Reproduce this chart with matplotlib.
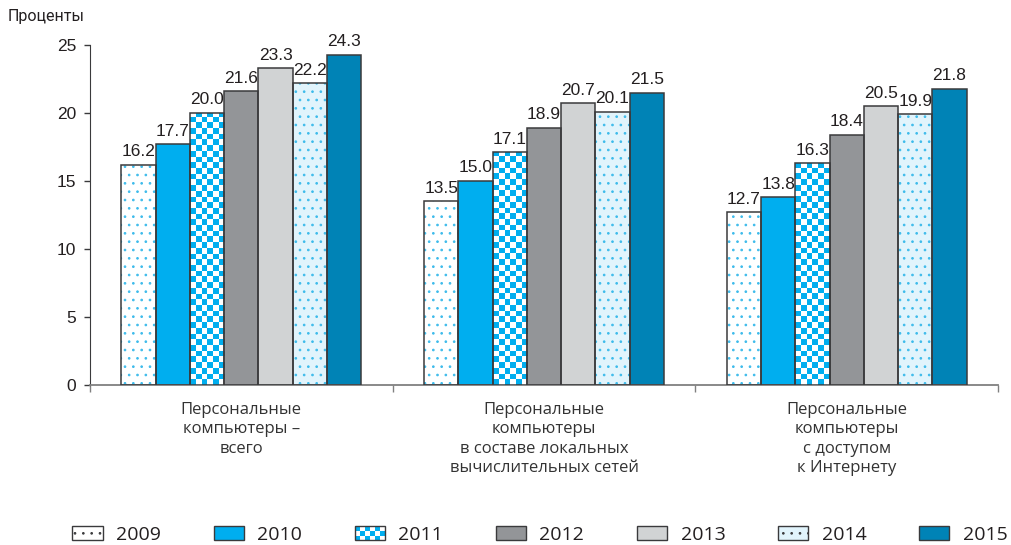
import numpy as np
import matplotlib
matplotlib.use("Agg")
import matplotlib.pyplot as plt
from matplotlib.colors import ListedColormap
from matplotlib.patches import Patch, Rectangle
from matplotlib.legend_handler import HandlerBase

categories = [
    "Персональные\nкомпьютеры –\nвсего",
    "Персональные\nкомпьютеры\nв составе локальных\nвычислительных сетей",
    "Персональные\nкомпьютеры\nс доступом\nк Интернету",
]
years = ["2009", "2010", "2011", "2012", "2013", "2014", "2015"]
values = {
    "2009": [16.2, 13.5, 12.7],
    "2010": [17.7, 15.0, 13.8],
    "2011": [20.0, 17.1, 16.3],
    "2012": [21.6, 18.9, 18.4],
    "2013": [23.3, 20.7, 20.5],
    "2014": [22.2, 20.1, 19.9],
    "2015": [24.3, 21.5, 21.8],
}

BLUE = "#00AEEF"
DOT = "#3DBBEB"
EDGE = "#3a3a3c"
face = {"2009": "white", "2010": BLUE, "2011": "white", "2012": "#939598",
        "2013": "#D1D3D4", "2014": "#E1F4FC", "2015": "#0083B6"}
hatch = {"2009": "..", "2014": ".."}

plt.rcParams["hatch.linewidth"] = 0.7
num_font = ["Liberation Sans Narrow", "Liberation Sans", "DejaVu Sans"]


class CheckerHandler(HandlerBase):
    # legend key drawn as a small blue/white checkerboard
    def create_artists(self, legend, orig_handle, xdescent, ydescent, width,
                       height, fontsize, trans):
        arts = []
        nx, ny = 6, 3
        cw, ch = width / nx, height / ny
        for r in range(ny):
            for c in range(nx):
                col = BLUE if (r + c) % 2 == 0 else "white"
                arts.append(Rectangle((-xdescent + c * cw, -ydescent + r * ch), cw, ch,
                                      facecolor=col, linewidth=0, transform=trans))
        arts.append(Rectangle((-xdescent, -ydescent), width, height, fill=False,
                              edgecolor=EDGE, linewidth=1, transform=trans))
        return arts


fig = plt.figure(figsize=(10.11, 5.45), dpi=100)
ax = fig.add_axes([90 / 1011, 1 - 385 / 545, 908 / 1011, 340 / 545])

x = np.arange(len(categories))
w = 0.1132
n = len(years)
sq_h = 0.42
checker_cmap = ListedColormap([BLUE, "white"])

for i, yr in enumerate(years):
    pos = x + (i - (n - 1) / 2) * w
    vals = values[yr]
    if yr in hatch:
        ax.bar(pos, vals, w, color=face[yr], edgecolor=DOT, linewidth=0,
               hatch=hatch[yr], zorder=2)
    else:
        ax.bar(pos, vals, w, color=face[yr], linewidth=0, zorder=2)
    outline = ax.bar(pos, vals, w, fill=False, edgecolor=EDGE, linewidth=1.1, zorder=4)
    if yr == "2011":
        for b in outline:
            x0, bw, h = b.get_x(), b.get_width(), b.get_height()
            ny = int(np.ceil(h / sq_h))
            arr = np.add.outer(np.arange(ny), np.arange(6)) % 2
            im = ax.imshow(arr, extent=(x0, x0 + bw, 0, ny * sq_h), origin="lower",
                           cmap=checker_cmap, aspect="auto", interpolation="nearest",
                           zorder=3)
            clip = Rectangle((x0, 0), bw, h, transform=ax.transData)
            im.set_clip_path(clip)
    for p, v in zip(pos, vals):
        ax.annotate(f"{v:.1f}", (p, v), xytext=(0, 4), textcoords="offset points",
                    ha="center", va="bottom", fontsize=12.5, color="#231F20",
                    family=num_font)

ax.set_xlim(-0.5, 2.5)
ax.set_ylim(0, 25)
ax.set_yticks([0, 5, 10, 15, 20, 25])
ax.tick_params(axis="y", direction="out", length=4, width=1, color=EDGE,
               labelsize=12.5, labelcolor="#231F20", pad=6)
for t in ax.get_yticklabels():
    t.set_family(num_font)

ax.set_xticks(x)
ax.set_xticklabels(categories, fontsize=12, color="#333333", family="Open Sans",
                   linespacing=1.3)
ax.tick_params(axis="x", length=0, pad=12)
ax.set_xticks([-0.5, 0.5, 1.5, 2.5], minor=True)
ax.tick_params(axis="x", which="minor", direction="out", length=5, width=1, color="#808080")

ax.spines["top"].set_visible(False)
ax.spines["right"].set_visible(False)
ax.spines["left"].set_color(EDGE)
ax.spines["bottom"].set_color("#808080")
ax.spines["bottom"].set_linewidth(1.3)

fig.text(8 / 1011, 1 - 17 / 545, "Проценты", fontsize=11.5, color="#231F20",
         family="Roboto", va="center", ha="left")

handles = []
for yr in years:
    if yr == "2011":
        handles.append(Patch(facecolor=BLUE))
    else:
        handles.append(Patch(facecolor=face[yr], edgecolor=EDGE, linewidth=1,
                             hatch=hatch.get(yr)))
leg = fig.legend(handles, years, loc="center", bbox_to_anchor=(0.534, 1 - 535 / 545),
                 ncol=7, frameon=False, handlelength=1.55, handleheight=0.75,
                 handletextpad=0.7, columnspacing=2.7,
                 prop={"family": "Open Sans", "size": 14},
                 handler_map={handles[2]: CheckerHandler()})
for t in leg.get_texts():
    t.set_color("#231F20")

fig.savefig("out.png", dpi=100)
